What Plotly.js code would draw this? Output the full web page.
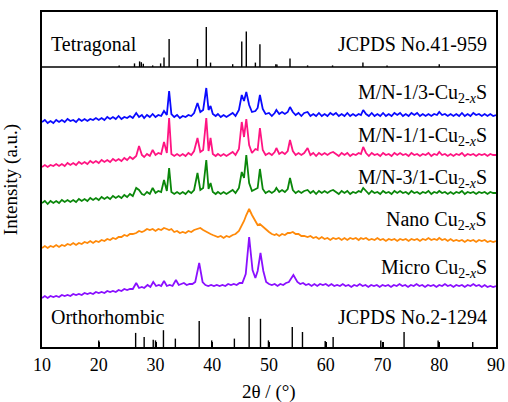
<!DOCTYPE html>
<html><head><meta charset="utf-8">
<script src="https://cdn.plot.ly/plotly-3.0.1.min.js"></script>
<style>html,body{margin:0;padding:0;background:#fff}#chart{width:508px;height:402px}</style>
</head><body><div id="chart"></div>
<script>
// Reference stick patterns (position 2θ, relative intensity)
const tetraPos = [23.6, 26.3, 27.2, 27.5, 27.85, 29.5, 30.9, 31.5, 32.4, 37.4, 38.95, 39.7, 43.6, 45.2, 46.0, 47.6, 48.4, 51.2, 51.4, 53.7, 56.8, 61.2, 66.55, 70.8, 80.0];
const tetraInt = [4, 9, 14, 12, 8, 4, 9, 24, 70, 20, 100, 11, 7, 64, 89, 11, 57, 7, 6, 21, 4, 4, 11, 4, 7];
const orthoPos = [20.0, 26.5, 28.0, 29.6, 30.0, 31.4, 33.5, 37.7, 39.9, 43.9, 46.5, 48.5, 49.9, 54.1, 55.9, 59.9, 61.3, 69.7, 73.8, 79.8, 85.9];
const orthoInt = [22, 47, 33, 24, 22, 56, 28, 87, 22, 28, 100, 94, 22, 67, 50, 20, 33, 22, 50, 22, 17];

// XRD patterns: [2θ, intensity (a.u.)]
const mn13 = [[10,0],[10.5,2],[11,-1],[11.5,1],[12,-1],[12.5,2],[13,0],[13.5,2],[14,0],[14.5,3],[15,1],[15.5,2],[16,0],[16.5,3],[17,1],[17.5,3],[18,1],[18.5,3],[19,2],[19.5,4],[20,2],[20.5,4],[21,2],[21.5,5],[22,3],[22.5,5],[23,3],[23.5,6],[24,3],[24.5,5],[25,4],[25.5,6],[26,4],[26.6,9],[27.1,5],[27.6,7],[28,4],[28.5,7],[29,5],[29.5,8],[30,5],[30.5,7],[31,6],[31.5,11],[32,7],[32.4,31],[32.8,8],[33.3,5],[33.8,7],[34.3,4],[34.8,6],[35.3,5],[35.8,7],[36.3,6],[36.8,9],[37.4,19],[37.9,10],[38.4,12],[38.95,34],[39.35,12],[39.7,16],[40.1,8],[40.6,6],[41,8],[41.5,5],[42,7],[42.5,5],[43,7],[43.6,9],[44.1,6],[44.7,12],[45.2,27],[45.6,21],[46.0,30],[46.5,17],[47,10],[47.6,11],[48.0,14],[48.4,27],[48.9,13],[49.4,8],[50,9],[50.5,6],[51,9],[51.3,12],[51.8,8],[52.3,10],[52.8,8],[53.3,10],[53.7,15],[54.2,10],[54.7,7],[55.2,9],[55.7,6],[56.2,9],[56.8,10],[57.3,6],[57.8,8],[58.3,6],[58.8,9],[59.3,6],[59.8,8],[60.3,6],[60.8,9],[61.3,7],[61.8,9],[62.3,6],[62.8,8],[63.3,6],[63.8,9],[64.3,6],[64.8,8],[65.3,6],[65.8,8],[66.2,7],[66.6,12],[67.1,8],[67.6,6],[68.1,9],[68.6,6],[69.1,8],[69.6,6],[70.1,9],[70.6,6],[71.1,8],[71.6,6],[72.1,9],[72.6,7],[73.1,9],[73.6,6],[74.1,8],[74.6,6],[75.1,9],[75.6,7],[76.1,9],[76.6,6],[77.1,8],[77.6,6],[78.1,8],[78.6,6],[79.1,8],[79.6,7],[80,10],[80.5,7],[81,8],[81.5,6],[82,8],[82.5,6],[83,8],[83.5,6],[84,9],[84.5,6],[85,8],[85.5,6],[86,9],[86.5,7],[87,8],[87.5,6],[88,8],[88.5,6],[89,8],[89.5,6],[90,7]];
const mn11 = [[10,0],[10.5,2],[11,0],[11.5,2],[12,1],[12.5,3],[13,1],[13.5,3],[14,1],[14.5,4],[15,2],[15.5,4],[16,2],[16.5,5],[17,3],[17.5,5],[18,3],[18.5,6],[19,4],[19.5,6],[20,4],[20.5,7],[21,5],[21.5,7],[22,5],[22.5,8],[23,6],[23.5,8],[24,6],[24.5,9],[25,7],[25.5,10],[26,8],[26.6,11],[27.1,21],[27.6,12],[28,10],[28.5,13],[29,11],[29.5,17],[30,12],[30.5,14],[31,13],[31.5,25],[32,14],[32.4,49],[32.8,13],[33.3,11],[33.8,13],[34.3,11],[34.8,13],[35.3,11],[35.8,14],[36.3,12],[36.8,16],[37.4,29],[37.9,15],[38.4,17],[38.95,49],[39.35,16],[39.7,29],[40.1,13],[40.6,11],[41,13],[41.5,11],[42,13],[42.5,11],[43,13],[43.6,15],[44.1,12],[44.7,18],[45.2,45],[45.6,30],[46.0,48],[46.5,22],[47,14],[47.6,18],[48.0,17],[48.4,39],[48.9,17],[49.4,12],[50,14],[50.5,12],[51,15],[51.3,19],[51.8,13],[52.3,15],[52.8,13],[53.3,16],[53.7,27],[54.2,16],[54.7,12],[55.2,14],[55.7,12],[56.2,14],[56.8,19],[57.3,12],[57.8,14],[58.3,11],[58.8,14],[59.3,12],[59.8,14],[60.3,12],[60.8,14],[61.3,15],[61.8,13],[62.3,11],[62.8,14],[63.3,12],[63.8,14],[64.3,11],[64.8,13],[65.3,12],[65.8,14],[66.2,13],[66.6,20],[67.1,14],[67.6,11],[68.1,14],[68.6,12],[69.1,13],[69.6,11],[70.1,14],[70.6,12],[71.1,13],[71.6,11],[72.1,14],[72.6,12],[73.1,14],[73.6,12],[74.1,13],[74.6,11],[75.1,14],[75.6,12],[76.1,13],[76.6,11],[77.1,13],[77.6,12],[78.1,14],[78.6,11],[79.1,13],[79.6,12],[80,15],[80.5,12],[81,13],[81.5,11],[82,13],[82.5,11],[83,13],[83.5,12],[84,14],[84.5,11],[85,13],[85.5,12],[86,13],[86.5,11],[87,13],[87.5,12],[88,13],[88.5,11],[89,13],[89.5,12],[90,12]];
const mn31 = [[10,0],[10.5,2],[11,-1],[11.5,2],[12,0],[12.5,2],[13,0],[13.5,3],[14,1],[14.5,3],[15,1],[15.5,3],[16,1],[16.5,4],[17,2],[17.5,4],[18,2],[18.5,5],[19,3],[19.5,5],[20,3],[20.5,6],[21,4],[21.5,6],[22,4],[22.5,7],[23,5],[23.5,7],[24,5],[24.5,8],[25,6],[25.5,9],[26,7],[26.6,15],[27.1,13],[27.6,9],[28,8],[28.5,11],[29,9],[29.5,15],[30,10],[30.5,12],[31,11],[31.5,23],[32,12],[32.4,35],[32.8,11],[33.3,9],[33.8,11],[34.3,9],[34.8,11],[35.3,9],[35.8,12],[36.3,10],[36.8,13],[37.4,30],[37.9,13],[38.4,15],[38.95,43],[39.35,14],[39.7,20],[40.1,11],[40.6,9],[41,11],[41.5,9],[42,11],[42.5,9],[43,11],[43.6,13],[44.1,10],[44.7,15],[45.2,31],[45.6,25],[46.0,48],[46.5,20],[47,12],[47.6,14],[48.0,15],[48.4,34],[48.9,14],[49.4,10],[50,12],[50.5,10],[51,12],[51.3,15],[51.8,11],[52.3,13],[52.8,11],[53.3,14],[53.7,25],[54.2,13],[54.7,10],[55.2,12],[55.7,10],[56.2,12],[56.8,13],[57.3,10],[57.8,12],[58.3,9],[58.8,12],[59.3,10],[59.8,12],[60.3,10],[60.8,12],[61.3,13],[61.8,11],[62.3,9],[62.8,12],[63.3,10],[63.8,12],[64.3,9],[64.8,11],[65.3,10],[65.8,12],[66.2,11],[66.6,15],[67.1,12],[67.6,9],[68.1,12],[68.6,10],[69.1,11],[69.6,9],[70.1,12],[70.6,10],[71.1,11],[71.6,9],[72.1,12],[72.6,10],[73.1,12],[73.6,10],[74.1,11],[74.6,9],[75.1,12],[75.6,10],[76.1,11],[76.6,9],[77.1,11],[77.6,10],[78.1,12],[78.6,9],[79.1,11],[79.6,10],[80,12],[80.5,10],[81,11],[81.5,9],[82,11],[82.5,9],[83,11],[83.5,10],[84,12],[84.5,9],[85,11],[85.5,10],[86,11],[86.5,9],[87,11],[87.5,10],[88,11],[88.5,9],[89,11],[89.5,10],[90,10]];
const nano = [[10,0],[10.5,2],[11,0],[11.5,2],[12,1],[12.5,3],[13,1],[13.5,3],[14,2],[14.5,4],[15,3],[15.5,5],[16,3],[16.5,5],[17,4],[17.5,6],[18,5],[18.5,7],[19,5],[19.5,7],[20,6],[20.5,8],[21,7],[21.5,9],[22,8],[22.5,10],[23,9],[23.5,11],[24,11],[24.5,13],[25,12],[25.5,14],[26,14],[26.6,15],[27.1,17],[27.6,16],[28,17],[28.5,19],[29,18],[29.5,19],[30,17],[30.5,19],[31,18],[31.5,20],[32,19],[32.4,18],[32.8,19],[33.3,16],[33.8,17],[34.3,15],[34.8,16],[35.3,15],[35.8,17],[36.3,16],[36.8,18],[37.4,19],[37.9,20],[38.4,18],[38.95,16],[39.35,15],[39.7,14],[40.1,13],[40.6,12],[41,11],[41.5,12],[42,10],[42.5,12],[43,11],[43.6,13],[44.1,14],[44.7,17],[45.2,22],[45.6,27],[46.0,33],[46.5,39],[47,33],[47.6,26],[48.0,23],[48.4,24],[48.9,21],[49.4,19],[50,16],[50.5,14],[51,13],[51.3,14],[51.8,12],[52.3,14],[52.8,13],[53.3,15],[53.7,15],[54.2,16],[54.7,14],[55.2,14],[55.7,12],[56.2,12],[56.8,11],[57.3,12],[57.8,10],[58.3,11],[58.8,9],[59.3,11],[59.8,9],[60.3,10],[60.8,8],[61.3,10],[61.8,9],[62.3,10],[62.8,8],[63.3,10],[63.8,8],[64.3,10],[64.8,9],[65.3,10],[65.8,8],[66.2,10],[66.6,9],[67.1,10],[67.6,8],[68.1,9],[68.6,8],[69.1,10],[69.6,8],[70.1,9],[70.6,7],[71.1,9],[71.6,8],[72.1,9],[72.6,7],[73.1,9],[73.6,8],[74.1,9],[74.6,7],[75.1,9],[75.6,8],[76.1,9],[76.6,7],[77.1,9],[77.6,8],[78.1,10],[78.6,8],[79.1,9],[79.6,8],[80,10],[80.5,8],[81,9],[81.5,7],[82,9],[82.5,7],[83,8],[83.5,7],[84,8],[84.5,6],[85,8],[85.5,7],[86,8],[86.5,6],[87,8],[87.5,7],[88,8],[88.5,6],[89,7],[89.5,6],[90,7]];
const micro = [[10,0],[10.5,2],[11,0],[11.5,2],[12,1],[12.5,2],[13,1],[13.5,3],[14,2],[14.5,3],[15,2],[15.5,4],[16,3],[16.5,4],[17,3],[17.5,5],[18,4],[18.5,5],[19,4],[19.5,6],[20,5],[20.5,6],[21,5],[21.5,7],[22,6],[22.5,7],[23,6],[23.5,8],[24,7],[24.5,9],[25,8],[25.5,9],[26,9],[26.6,15],[27.1,10],[27.6,11],[28,10],[28.6,13],[29.1,11],[29.6,16],[30.1,12],[30.6,13],[31,12],[31.5,17],[32,12],[32.5,13],[33,12],[33.6,18],[34.1,13],[34.6,14],[35,15],[35.5,13],[36,14],[36.5,14],[37,16],[37.7,35],[38.3,16],[38.8,13],[39.3,12],[39.8,13],[40.3,12],[40.8,13],[41.3,12],[41.8,13],[42.3,12],[42.8,14],[43.3,13],[43.8,14],[44.3,13],[44.8,15],[45.3,15],[45.9,24],[46.5,61],[47.1,28],[47.6,20],[48.0,27],[48.5,45],[49.0,27],[49.5,16],[50,14],[50.5,13],[51,14],[51.5,12],[52,14],[52.5,13],[53,15],[53.5,16],[54.3,23],[55,16],[55.5,14],[56,15],[56.5,13],[57,14],[57.5,12],[58,14],[58.5,12],[59,14],[59.5,13],[60,14],[60.5,12],[61,14],[61.5,12],[62,13],[62.5,12],[63,14],[63.5,12],[64,13],[64.5,11],[65,13],[65.5,12],[66,14],[66.5,12],[67,13],[67.5,11],[68,13],[68.5,12],[69,13],[69.5,11],[70,13],[70.5,12],[71,13],[71.5,11],[72,13],[72.5,12],[73,14],[73.5,12],[74,13],[74.5,11],[75,13],[75.5,12],[76,14],[76.5,12],[77,13],[77.5,11],[78,13],[78.5,12],[79,13],[79.5,11],[80,13],[80.5,12],[81,14],[81.5,12],[82,13],[82.5,11],[83,13],[83.5,12],[84,13],[84.5,11],[85,13],[85.5,12],[86,14],[86.5,12],[87,13],[87.5,11],[88,13],[88.5,11],[89,12],[89.5,11],[90,12]];

const seriesLabels = ['M/N-1/3-Cu<sub>2-<i>x</i></sub>S', 'M/N-1/1-Cu<sub>2-<i>x</i></sub>S', 'M/N-3/1-Cu<sub>2-<i>x</i></sub>S', 'Nano Cu<sub>2-<i>x</i></sub>S', 'Micro Cu<sub>2-<i>x</i></sub>S'];
const refLabels = ['Tetragonal', 'JCPDS No.41-959', 'Orthorhombic', 'JCPDS No.2-1294'];
const xTitle = '2θ / (°)';
const yTitle = 'Intensity (a.u.)';

// layout / styling (not data)
const series = [mn13, mn11, mn31, nano, micro];
const offsets = [225, 180, 144, 99, 49];
const colors = ['#0a0aff', '#ff1482', '#0a870a', '#ff8a0a', '#8a10ff'];
const labelY = [254, 211, 169, 127, 79];
const panelSplit = 280;

function sticks(pos, inten, base, scale) {
  const x = [], y = [];
  pos.forEach((p, i) => { x.push(p, p, null); y.push(base, base + inten[i] * scale, null); });
  return {x, y, mode: 'lines', line: {color: '#000', width: 1.4}, hoverinfo: 'skip', showlegend: false};
}

const traces = series.map((d, i) => ({
  x: d.map(p => p[0]), y: d.map(p => p[1] + offsets[i]),
  mode: 'lines', line: {color: colors[i], width: 1.8}, hoverinfo: 'skip', showlegend: false
}));
traces.push(sticks(tetraPos, tetraInt, panelSplit, 0.4));
traces.push(sticks(orthoPos, orthoInt, 0, 0.3));

const FONT = 'Liberation Serif';
const annotations = seriesLabels.map((t, i) => ({
  x: 88.7, y: labelY[i], xref: 'x', yref: 'y', text: t, showarrow: false,
  xanchor: 'right', yanchor: 'middle', font: {family: FONT, size: 20, color: '#000'}
}));
annotations.push({x: 11.2, y: 303, xref: 'x', yref: 'y', text: refLabels[0], showarrow: false, xanchor: 'left', yanchor: 'middle', font: {family: FONT, size: 20, color: '#000'}});
annotations.push({x: 88.7, y: 303, xref: 'x', yref: 'y', text: refLabels[1], showarrow: false, xanchor: 'right', yanchor: 'middle', font: {family: FONT, size: 20, color: '#000'}});
annotations.push({x: 11.2, y: 30, xref: 'x', yref: 'y', text: refLabels[2], showarrow: false, xanchor: 'left', yanchor: 'middle', font: {family: FONT, size: 20, color: '#000'}});
annotations.push({x: 88.7, y: 30, xref: 'x', yref: 'y', text: refLabels[3], showarrow: false, xanchor: 'right', yanchor: 'middle', font: {family: FONT, size: 20, color: '#000'}});
// x-axis title placed as a paper-anchored label just below the tick labels
annotations.push({x: 0.5, y: -0.134, xref: 'paper', yref: 'paper', text: xTitle, showarrow: false, xanchor: 'center', yanchor: 'middle', font: {family: FONT, size: 19, color: '#000'}});

const layout = {
  width: 508, height: 402,
  margin: {l: 42, r: 12, t: 12, b: 55},
  paper_bgcolor: '#fff', plot_bgcolor: '#fff',
  font: {family: FONT, color: '#000'},
  showlegend: false,
  xaxis: {
    range: [10, 90], tick0: 10, dtick: 10, ticks: 'inside', ticklen: 5, tickwidth: 2, tickcolor: '#000',
    showline: true, linewidth: 2, linecolor: '#000', mirror: true, showgrid: false, zeroline: false,
    tickfont: {family: FONT, size: 18, color: '#000'}
  },
  yaxis: {
    range: [0, 335], showline: true, linewidth: 2, linecolor: '#000', mirror: true,
    showticklabels: false, ticks: '', showgrid: false, zeroline: false,
    title: {text: yTitle, font: {family: FONT, size: 19, color: '#000'}}
  },
  shapes: [{type: 'line', xref: 'paper', x0: 0, x1: 1, yref: 'y', y0: panelSplit, y1: panelSplit, line: {color: '#000', width: 1.5}}],
  annotations: annotations
};
Plotly.newPlot('chart', traces, layout, {displayModeBar: false, staticPlot: true});
</script></body></html>
